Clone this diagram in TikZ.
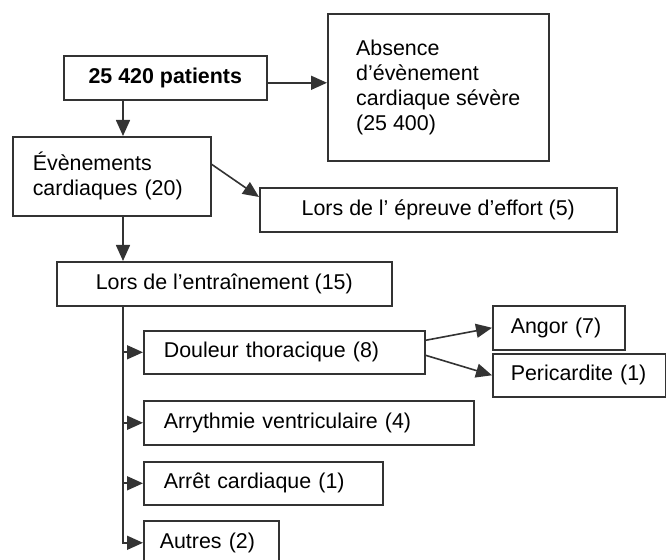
\documentclass[tikz,border=0pt]{standalone}
\usepackage{fontspec}
\setmainfont{Liberation Sans}
\usetikzlibrary{arrows.meta}
\begin{document}
\begin{tikzpicture}[x=0.5pt,y=-0.5pt,
		box/.style={draw=black!80, line width=0.8pt, anchor=north west, inner sep=0pt, align=center, font=\fontsize{10.7}{12.5}\selectfont},
		item/.style={box, inner xsep=10pt, align=left},
		link/.style={draw=black!80, line width=0.8pt, -{Triangle[length=8pt,width=7pt]}}]
	\useasboundingbox (0,0) rectangle (666,560);
	\node[box, minimum width=101.5pt, minimum height=22pt, font=\fontsize{10.7}{12.5}\selectfont\bfseries] (pat) at (63,55) {25 420 patients};
	\node[box, align=left, minimum width=110.5pt, minimum height=73.5pt] (abs) at (327,13) {Absence\\d’évènement\\cardiaque sévère\\(25 400)};
	\node[item, text width=79pt, minimum height=39.5pt] (evt) at (12,136) {Évènements\\cardiaques (20)};
	\node[box, minimum width=178.5pt, minimum height=22pt] (eff) at (259,187) {Lors de l’ épreuve d’effort (5)};
	\node[box, minimum width=167.5pt, minimum height=22pt] (ent) at (56,261) {Lors de l’entraînement (15)};
	\node[item, text width=120.5pt, minimum height=21.5pt] (dou) at (143,330) {Douleur thoracique (8)};
	\node[item, inner xsep=9pt, text width=48pt, minimum height=22pt] (ang) at (492,305) {Angor (7)};
	\node[item, inner xsep=9pt, text width=68.5pt, minimum height=21.5pt] (per) at (492,353) {Pericardite (1)};
	\node[item, text width=145pt, minimum height=22pt] (arv) at (143,400) {Arrythmie ventriculaire (4)};
	\node[item, text width=99.5pt, minimum height=21.5pt] (arc) at (143,461) {Arrêt cardiaque (1)};
	\node[item, inner xsep=8pt, text width=51.5pt, minimum height=22pt] (aut) at (143,520) {Autres (2)};

	\coordinate (s1) at ([xshift=30pt]pat.south west);
	\coordinate (s2) at ([xshift=55.5pt]evt.south west);
	\coordinate (spine) at ([xshift=33.5pt]ent.south west);
	\draw[link] ([yshift=-2.5pt]pat.east) -- ([yshift=-2.5pt]pat.east -| abs.west);
	\draw[link] (s1) -- (s1 |- evt.north);
	\draw[link] ([yshift=6pt]evt.east) -- ([yshift=-5pt]eff.north west);
	\draw[link] (s2) -- (s2 |- ent.north);
	\foreach \n in {dou,arv,arc}
		\draw[link] (spine |- \n.west) -- (\n.west);
	\draw[link] (spine) |- (aut.west);
	\draw[link] ([yshift=6pt]dou.east) -- (ang.west);
	\draw[link] ([yshift=-1.5pt]dou.east) -- (per.west);
\end{tikzpicture}
\end{document}
